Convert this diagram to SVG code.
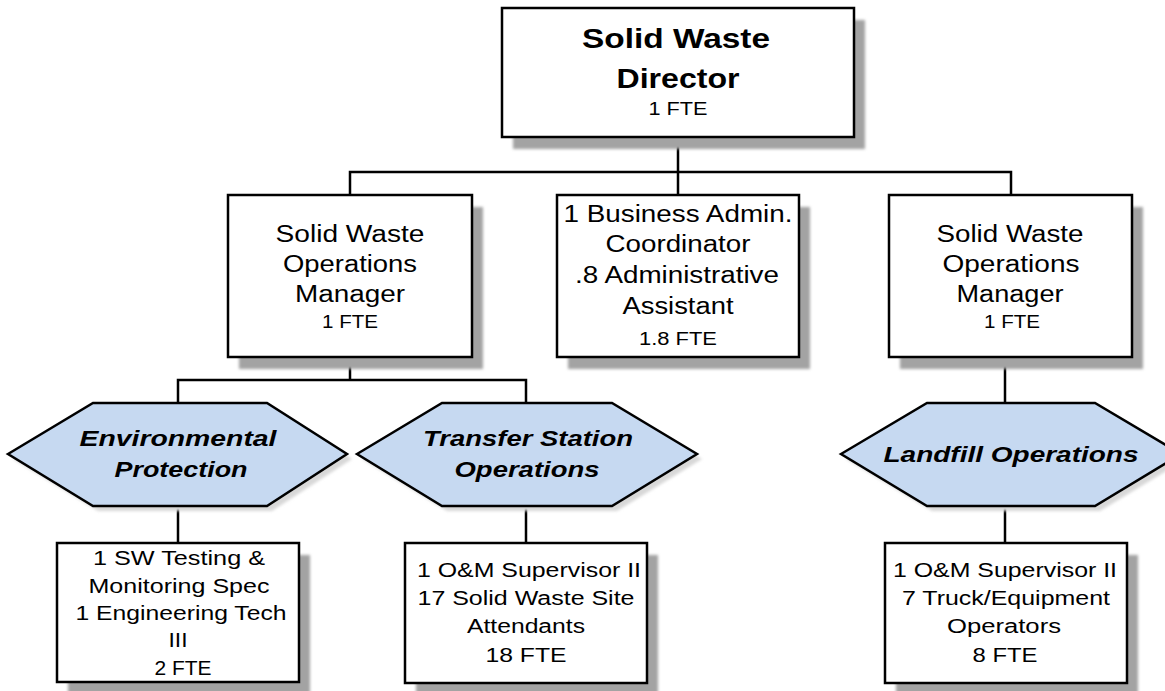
<svg xmlns="http://www.w3.org/2000/svg" width="1165" height="691" viewBox="0 0 1165 691">
<defs>
<filter id="sh" x="-10%" y="-10%" width="130%" height="130%"><feGaussianBlur stdDeviation="1.5"/></filter>
</defs>
<style>
.box{fill:#fff;stroke:#000;stroke-width:2.5}
.hex{fill:#c6d9f1;stroke:#000;stroke-width:2.5;stroke-linejoin:miter}
.shadow{fill:#a3a3a3;filter:url(#sh)}
.hshadow{fill:#d8d8d8;filter:url(#sh)}
.conn{fill:none;stroke:#000;stroke-width:2.5}
text{font-family:"Liberation Sans",Arial,sans-serif;fill:#000;text-anchor:middle}
.title{font-size:28px;font-weight:bold}
.t22{font-size:23px}
.fte{font-size:18px}
.hx{font-size:22px;font-weight:bold;font-style:italic}
.b{font-size:20px}
</style>
<g id="connectors">
<path class="conn" d="M678 137V195M350 195V172H1011V195M350 357V380M178 403V380H526V403M1005 357V403M178 506V543M526 506V543M1005 506V543"/>
</g>
<g id="director">
<rect class="shadow" x="513" y="20" width="352" height="129"/>
<rect class="box" x="502" y="8" width="352" height="129"/>
<text class="title" x="676" y="48" textLength="188" lengthAdjust="spacingAndGlyphs">Solid Waste</text>
<text class="title" x="678" y="88" textLength="123" lengthAdjust="spacingAndGlyphs">Director</text>
<text class="fte" x="678" y="115" textLength="59" lengthAdjust="spacingAndGlyphs">1 FTE</text>
</g>
<g id="mgr-left">
<rect class="shadow" x="239" y="207" width="244" height="162"/>
<rect class="box" x="228" y="195" width="244" height="162"/>
<text class="t22" x="350" y="242" textLength="149" lengthAdjust="spacingAndGlyphs">Solid Waste</text>
<text class="t22" x="350" y="272" textLength="134" lengthAdjust="spacingAndGlyphs">Operations</text>
<text class="t22" x="350" y="302" textLength="110" lengthAdjust="spacingAndGlyphs">Manager</text>
<text class="fte" x="350" y="328" textLength="56" lengthAdjust="spacingAndGlyphs">1 FTE</text>
</g>
<g id="admin">
<rect class="shadow" x="568" y="207" width="242" height="162"/>
<rect class="box" x="557" y="195" width="242" height="162"/>
<text class="t22" x="678" y="222" textLength="229" lengthAdjust="spacingAndGlyphs">1 Business Admin.</text>
<text class="t22" x="678" y="252" textLength="145" lengthAdjust="spacingAndGlyphs">Coordinator</text>
<text class="t22" x="677" y="283" textLength="204" lengthAdjust="spacingAndGlyphs">.8 Administrative</text>
<text class="t22" x="678" y="314" textLength="111" lengthAdjust="spacingAndGlyphs">Assistant</text>
<text class="fte" x="678" y="345" textLength="78" lengthAdjust="spacingAndGlyphs">1.8 FTE</text>
</g>
<g id="mgr-right">
<rect class="shadow" x="900" y="207" width="243" height="162"/>
<rect class="box" x="889" y="195" width="243" height="162"/>
<text class="t22" x="1010" y="242" textLength="147" lengthAdjust="spacingAndGlyphs">Solid Waste</text>
<text class="t22" x="1011" y="272" textLength="137" lengthAdjust="spacingAndGlyphs">Operations</text>
<text class="t22" x="1010" y="302" textLength="107" lengthAdjust="spacingAndGlyphs">Manager</text>
<text class="fte" x="1012" y="328" textLength="56" lengthAdjust="spacingAndGlyphs">1 FTE</text>
</g>
<g id="hex-env">
<polygon class="hshadow" points="13,459 98,408 272,408 352,459 272,511 98,511"/>
<polygon class="hex" points="8,454 93,403 267,403 347,454 267,506 93,506"/>
<text class="hx" x="178" y="446" textLength="197" lengthAdjust="spacingAndGlyphs">Environmental</text>
<text class="hx" x="181" y="477" textLength="133" lengthAdjust="spacingAndGlyphs">Protection</text>
</g>
<g id="hex-transfer">
<polygon class="hshadow" points="362,459 447,408 617,408 702,459 617,511 447,511"/>
<polygon class="hex" points="357,454 442,403 612,403 697,454 612,506 442,506"/>
<text class="hx" x="528" y="446" textLength="210" lengthAdjust="spacingAndGlyphs">Transfer Station</text>
<text class="hx" x="527" y="477" textLength="145" lengthAdjust="spacingAndGlyphs">Operations</text>
</g>
<g id="hex-landfill">
<polygon class="hshadow" points="846,459 932,408 1100,408 1186,459 1100,511 932,511"/>
<polygon class="hex" points="841,454 927,403 1095,403 1181,454 1095,506 927,506"/>
<text class="hx" x="1011" y="462" textLength="255" lengthAdjust="spacingAndGlyphs">Landfill Operations</text>
</g>
<g id="staff-env">
<rect class="shadow" x="68" y="555" width="242" height="139"/>
<rect class="box" x="57" y="543" width="242" height="139"/>
<text class="b" x="179" y="565" textLength="172" lengthAdjust="spacingAndGlyphs">1 SW Testing &amp;</text>
<text class="b" x="179" y="593" textLength="181" lengthAdjust="spacingAndGlyphs">Monitoring Spec</text>
<text class="b" x="181" y="620" textLength="211" lengthAdjust="spacingAndGlyphs">1 Engineering Tech</text>
<text class="b" x="178" y="647" textLength="19" lengthAdjust="spacingAndGlyphs">III</text>
<text class="b" x="183" y="675" textLength="57" lengthAdjust="spacingAndGlyphs">2 FTE</text>
</g>
<g id="staff-transfer">
<rect class="shadow" x="416" y="555" width="242" height="140"/>
<rect class="box" x="405" y="543" width="242" height="140"/>
<text class="b" x="529" y="577" textLength="224" lengthAdjust="spacingAndGlyphs">1 O&amp;M Supervisor II</text>
<text class="b" x="526" y="605" textLength="217" lengthAdjust="spacingAndGlyphs">17 Solid Waste Site</text>
<text class="b" x="526" y="633" textLength="118" lengthAdjust="spacingAndGlyphs">Attendants</text>
<text class="b" x="526" y="662" textLength="81" lengthAdjust="spacingAndGlyphs">18 FTE</text>
</g>
<g id="staff-landfill">
<rect class="shadow" x="896" y="555" width="242" height="140"/>
<rect class="box" x="885" y="543" width="242" height="140"/>
<text class="b" x="1005" y="577" textLength="224" lengthAdjust="spacingAndGlyphs">1 O&amp;M Supervisor II</text>
<text class="b" x="1006" y="605" textLength="208" lengthAdjust="spacingAndGlyphs">7 Truck/Equipment</text>
<text class="b" x="1004" y="633" textLength="114" lengthAdjust="spacingAndGlyphs">Operators</text>
<text class="b" x="1005" y="662" textLength="65" lengthAdjust="spacingAndGlyphs">8 FTE</text>
</g>
</svg>
